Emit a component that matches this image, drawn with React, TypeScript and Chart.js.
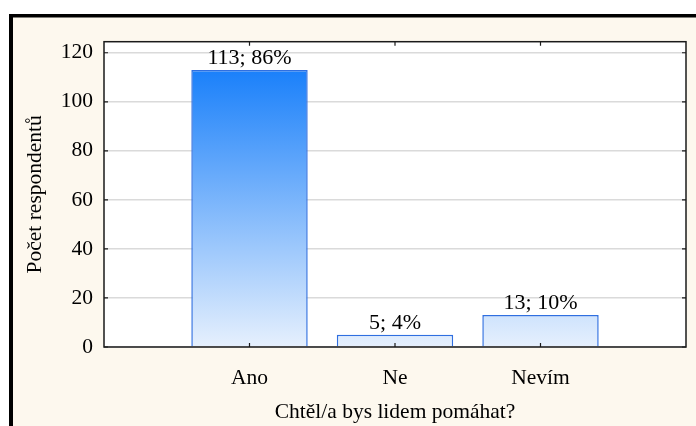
import React, { useEffect, useRef } from "react";
import { Chart, registerables } from "chart.js";

Chart.register(...registerables);

const categories = ["Ano", "Ne", "Nevím"];
const counts = [113, 5, 13];
const yTicks = [0, 20, 40, 60, 80, 100, 120];
const xTitle = "Chtěl/a bys lidem pomáhat?";
const yTitle = "Počet respondentů";

const FONT = "'Liberation Serif', 'Times New Roman', serif";
const FS = 21.5;

export default function App() {
  const ref = useRef<HTMLCanvasElement | null>(null);

  useEffect(() => {
    const canvas = ref.current;
    if (!canvas) return;
    const total = counts.reduce((a, b) => a + b, 0);
    const labels = counts.map((c) => `${c}; ${Math.round((c / total) * 100)}%`);

    const framePlugin = {
      id: "frame",
      beforeDraw(chart: any) {
        const { ctx, chartArea } = chart;
        ctx.save();
        ctx.fillStyle = "#ffffff";
        ctx.fillRect(0, 0, chart.width, chart.height);
        ctx.fillStyle = "#fdf8ee";
        ctx.fillRect(9, 14, chart.width, chart.height);
        ctx.fillStyle = "#000000";
        ctx.fillRect(9, 14, 4, chart.height);
        ctx.fillRect(9, 14, chart.width, 3.5);
        ctx.fillStyle = "#ffffff";
        ctx.fillRect(chartArea.left, chartArea.top, chartArea.right - chartArea.left, chartArea.bottom - chartArea.top);
        ctx.restore();
      },
      afterDatasetsDraw(chart: any) {
        const { ctx, chartArea, scales } = chart;
        const { left, right, top, bottom } = chartArea;
        ctx.save();
        ctx.strokeStyle = "#1a1a1a";
        ctx.lineWidth = 1.5;
        ctx.strokeRect(left, top, right - left, bottom - top);
        ctx.lineWidth = 1.2;
        ctx.beginPath();
        yTicks.forEach((v) => {
          const y = scales.y.getPixelForValue(v);
          ctx.moveTo(left, y);
          ctx.lineTo(left + 4, y);
          ctx.moveTo(right, y);
          ctx.lineTo(right - 4, y);
        });
        categories.forEach((_, i) => {
          const x = scales.x.getPixelForValue(i + 1);
          ctx.moveTo(x, top);
          ctx.lineTo(x, top + 4);
          ctx.moveTo(x, bottom);
          ctx.lineTo(x, bottom - 4);
        });
        ctx.stroke();
        const meta = chart.getDatasetMeta(0);
        ctx.fillStyle = "#000";
        ctx.font = `22px ${FONT}`;
        ctx.textAlign = "center";
        ctx.textBaseline = "alphabetic";
        meta.data.forEach((bar: any, i: number) => {
          ctx.fillText(labels[i], bar.x, bar.y - 6);
        });
        ctx.restore();
      },
    };

    const chart = new Chart(canvas, {
      type: "bar",
      data: {
        datasets: [
          {
            data: counts.map((c, i) => ({ x: i + 1, y: c })) as any,
            backgroundColor: (context: any) => {
              const ch = context.chart;
              const ys = ch.scales && ch.scales.y;
              if (!ys || !ch.chartArea) return "#5aa0f8";
              const y0 = ys.getPixelForValue(113);
              const y1 = ys.getPixelForValue(0);
              if (!isFinite(y0) || !isFinite(y1) || y0 === y1) return "#5aa0f8";
              const g = ch.ctx.createLinearGradient(0, y0, 0, y1);
              g.addColorStop(0, "#1a80fa");
              g.addColorStop(1, "#e6f0fd");
              return g;
            },
            borderColor: "#2f6fe0",
            borderWidth: 1.5,
            barPercentage: 0.8,
            categoryPercentage: 1,
          },
        ],
      },
      options: {
        animation: false,
        responsive: false,
        devicePixelRatio: 1,
        layout: { padding: { top: 41.7, right: 10, left: 0, bottom: 0 } },
        plugins: { legend: { display: false }, tooltip: { enabled: false } },
        scales: {
          x: {
            type: "linear",
            min: 0,
            max: 4,
            offset: false,
            afterBuildTicks: (scale: any) => {
              scale.ticks = categories.map((_, i) => ({ value: i + 1 }));
            },
            afterFit: (scale: any) => {
              scale.height = 79;
            },
            ticks: {
              autoSkip: false,
              maxRotation: 0,
              padding: 10,
              color: "#000",
              font: { family: FONT, size: FS },
              callback: (v: any) => categories[Number(v) - 1] ?? "",
            },
            grid: { display: false, offset: false },
            border: { display: false },
            title: {
              display: true,
              text: xTitle,
              color: "#000",
              font: { family: FONT, size: FS },
              padding: { top: 0, bottom: 1 },
            },
          },
          y: {
            min: 0,
            max: 124.5,
            afterBuildTicks: (scale: any) => {
              scale.ticks = yTicks.map((v) => ({ value: v }));
            },
            afterFit: (scale: any) => {
              scale.width = 104;
            },
            ticks: {
              padding: 11,
              color: "#000",
              font: { family: FONT, size: FS },
            },
            grid: { color: "#dadada", lineWidth: 1.5, drawTicks: false },
            border: { display: false },
            title: {
              display: true,
              text: yTitle,
              color: "#000",
              font: { family: FONT, size: FS },
              padding: { top: 22, bottom: 0 },
            },
          },
        },
      },
      plugins: [framePlugin],
    });
    return () => chart.destroy();
  }, []);

  return (
    <div style={{ position: "fixed", left: 0, top: 0, width: 696, height: 426, background: "#fff" }}>
      <canvas ref={ref} width={696} height={426} style={{ width: 696, height: 426, display: "block" }} />
    </div>
  );
}
